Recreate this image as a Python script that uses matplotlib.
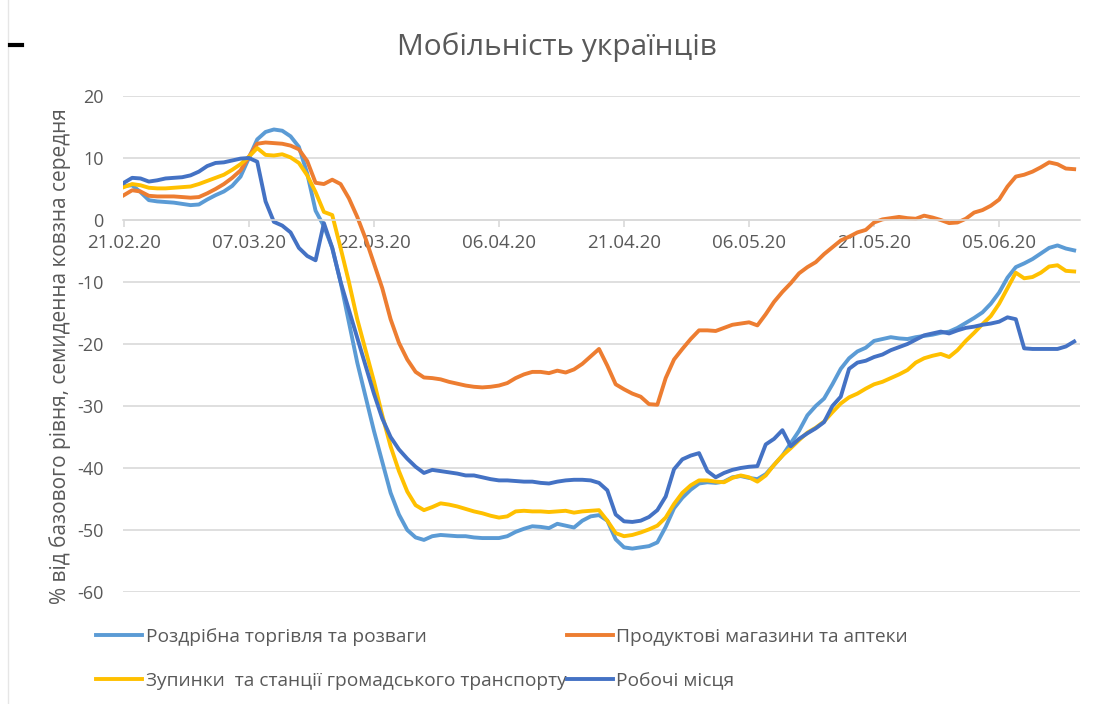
import matplotlib
matplotlib.use("Agg")
import matplotlib.pyplot as plt
from matplotlib.lines import Line2D

plt.rcParams['font.family'] = ['Open Sans', 'DejaVu Sans']
plt.rcParams['axes.unicode_minus'] = False

# daily values, 21.02.20 .. 14.06.20 (% from baseline, 7-day moving average)
tick_labels = ['21.02.20', '07.03.20', '22.03.20', '06.04.20',
               '21.04.20', '06.05.20', '21.05.20', '05.06.20']

retail = [5.5, 5.6, 4.5, 3.2, 3.0, 2.9, 2.8, 2.6, 2.4, 2.5,
          3.3, 4.0, 4.6, 5.5, 7.0, 10.0, 13.0, 14.2, 14.6, 14.4,
          13.5, 11.8, 7.5, 1.5, -1.0, -4.5, -10.0, -16.5, -23.0, -28.5,
          -34.0, -39.0, -44.0, -47.5, -50.0, -51.2, -51.6, -51.0, -50.8, -50.9,
          -51.0, -51.0, -51.2, -51.3, -51.3, -51.3, -51.0, -50.3, -49.8, -49.4,
          -49.5, -49.7, -49.0, -49.3, -49.6, -48.5, -47.8, -47.6, -48.5, -51.5,
          -52.8, -53.0, -52.8, -52.6, -52.0, -49.5, -46.5, -44.8, -43.5, -42.5,
          -42.3, -42.4, -42.2, -41.5, -41.3, -41.6, -41.8, -41.0, -39.5, -38.0,
          -36.0, -34.0, -31.5, -30.0, -28.8, -26.5, -24.0, -22.3, -21.2, -20.6,
          -19.5, -19.2, -18.9, -19.1, -19.2, -18.9, -18.7, -18.5, -18.2, -18.0,
          -17.4, -16.6, -15.8, -14.9, -13.5, -11.7, -9.3, -7.6, -7.0, -6.3,
          -5.4, -4.5, -4.1, -4.6, -4.9]

grocery = [4.0, 4.8, 4.6, 3.9, 3.8, 3.8, 3.8, 3.7, 3.6, 3.7,
           4.3, 5.0, 5.8, 6.8, 8.0, 10.2, 12.3, 12.5, 12.4, 12.3,
           12.0, 11.4, 9.5, 6.0, 5.8, 6.5, 5.8, 3.5, 0.5, -3.0,
           -7.0, -11.0, -16.0, -19.8, -22.5, -24.5, -25.4, -25.5, -25.7, -26.1,
           -26.4, -26.7, -26.9, -27.0, -26.9, -26.7, -26.3, -25.5, -24.9, -24.5,
           -24.5, -24.7, -24.3, -24.6, -24.1, -23.2, -22.0, -20.8, -23.5, -26.5,
           -27.3, -28.0, -28.5, -29.7, -29.8, -25.5, -22.5, -20.8, -19.2, -17.8,
           -17.8, -17.9, -17.4, -16.9, -16.7, -16.5, -17.0, -15.2, -13.2, -11.6,
           -10.2, -8.6, -7.6, -6.8, -5.5, -4.4, -3.3, -2.7, -2.0, -1.6,
           -0.4, 0.1, 0.3, 0.5, 0.3, 0.2, 0.7, 0.4, 0.0, -0.5,
           -0.4, 0.2, 1.2, 1.6, 2.3, 3.3, 5.4, 7.0, 7.3, 7.8,
           8.5, 9.3, 9.0, 8.3, 8.2]

transit = [5.3, 5.8, 5.6, 5.2, 5.1, 5.1, 5.2, 5.3, 5.4, 5.8,
           6.3, 6.8, 7.3, 8.1, 9.0, 10.2, 11.6, 10.5, 10.4, 10.6,
           10.1, 9.2, 7.2, 4.5, 1.3, 0.8, -4.5, -10.0, -16.0, -21.0,
           -26.0, -31.5, -36.5, -40.5, -43.8, -46.0, -46.8, -46.3, -45.7, -45.9,
           -46.2, -46.6, -47.0, -47.3, -47.7, -48.0, -47.8, -47.0, -46.9, -47.0,
           -47.0, -47.1, -47.0, -46.9, -47.2, -47.0, -46.9, -46.8, -48.5, -50.5,
           -51.0, -50.8, -50.4, -49.9, -49.3, -48.0, -45.8, -44.0, -42.8, -42.0,
           -42.0, -42.2, -42.3, -41.6, -41.2, -41.5, -42.2, -41.2, -39.5, -38.0,
           -36.8, -35.5, -34.3, -33.5, -32.5, -31.0, -29.6, -28.6, -28.0, -27.2,
           -26.5, -26.1, -25.5, -24.9, -24.2, -23.0, -22.3, -21.9, -21.6, -22.1,
           -21.0, -19.5, -18.2, -16.8, -15.5, -13.5, -11.0, -8.5, -9.4, -9.2,
           -8.5, -7.5, -7.3, -8.2, -8.3]

workplaces = [6.0, 6.8, 6.7, 6.2, 6.4, 6.7, 6.8, 6.9, 7.2, 7.8,
              8.7, 9.2, 9.3, 9.6, 9.9, 10.0, 9.4, 3.0, -0.3, -0.9,
              -2.0, -4.5, -5.8, -6.5, -0.5, -4.5, -10.0, -14.5, -19.0, -23.5,
              -28.0, -32.0, -35.0, -37.0, -38.5, -39.8, -40.8, -40.3, -40.5, -40.7,
              -40.9, -41.2, -41.2, -41.5, -41.8, -42.0, -42.0, -42.1, -42.2, -42.2,
              -42.4, -42.5, -42.2, -42.0, -41.9, -41.9, -42.0, -42.4, -43.6, -47.5,
              -48.6, -48.7, -48.5, -47.9, -46.8, -44.6, -40.2, -38.6, -38.0, -37.6,
              -40.5, -41.5, -40.8, -40.3, -40.0, -39.8, -39.7, -36.2, -35.3, -33.9,
              -36.5, -35.3, -34.4, -33.6, -32.6, -30.0, -28.5, -24.0, -23.0, -22.7,
              -22.1, -21.7, -21.0, -20.5, -20.0, -19.3, -18.6, -18.3, -18.0, -18.3,
              -17.8, -17.4, -17.2, -16.9, -16.7, -16.4, -15.7, -16.0, -20.7, -20.8,
              -20.8, -20.8, -20.8, -20.4, -19.6]

names = ['Роздрібна торгівля та розваги', 'Продуктові магазини та аптеки',
         'Зупинки  та станції громадського транспорту', 'Робочі місця']
colors = ['#5B9BD5', '#ED7D31', '#FFC000', '#4472C4']
series = [retail, grocery, transit, workplaces]

fig = plt.figure(figsize=(10.98, 7.04), dpi=100)
ax = fig.add_axes([123/1098, 1 - 592/704, (1080 - 123)/1098, (592 - 96)/704])

days = list(range(len(retail)))
handles = []
for vals, name, c in zip(series, names, colors):
    h, = ax.plot(days, vals, color=c, lw=2.8, label=name, solid_joinstyle='round')
    handles.append(h)

ax.set_xlim(-0.1, 114.7)
ax.set_ylim(-60, 20)
ax.set_yticks(range(-60, 30, 10))
ax.grid(axis='y', color='#D9D9D9', lw=1.2)
ax.set_axisbelow(True)
for s in ['left', 'top', 'right']:
    ax.spines[s].set_visible(False)
ax.spines['bottom'].set_position(('data', 0))
ax.spines['bottom'].set_color('#D9D9D9')
ax.spines['bottom'].set_linewidth(1.2)
ax.set_xticks(range(0, 106, 15))
ax.set_xticklabels(tick_labels)
ax.tick_params(axis='x', colors='#D9D9D9', length=5, width=1.2, labelcolor='#595959',
               labelsize=13.5, pad=5)
ax.tick_params(axis='y', length=0, labelcolor='#595959', labelsize=13, pad=14)

fig.text(557/1098, 1 - 47/704, 'Мобільність українців', ha='center', va='center',
         fontsize=21.5, color='#595959')
fig.text(60/1098, 1 - 356/704, '% від базового рівня, семиденна ковзна середня',
         rotation=90, ha='center', va='center', fontsize=15, color='#595959')

order = [handles[0], handles[2], handles[1], handles[3]]
leg = fig.legend(order, [h.get_label() for h in order], ncol=2, frameon=False,
                 loc='upper left', bbox_to_anchor=(96/1098, 1 - 628/704),
                 fontsize=13.8, handlelength=2.4, handletextpad=0.2,
                 columnspacing=0.0, labelspacing=1.35, labelcolor='#595959',
                 borderaxespad=0, borderpad=0)

# screenshot edge marks
fig.add_artist(Line2D([8/1098, 8/1098], [0, 1], color='#E6E6E6', lw=1))
fig.add_artist(Line2D([10/1098, 22/1098], [1 - 45/704, 1 - 45/704], color='black', lw=3))

fig.savefig('out.png', dpi=100)
